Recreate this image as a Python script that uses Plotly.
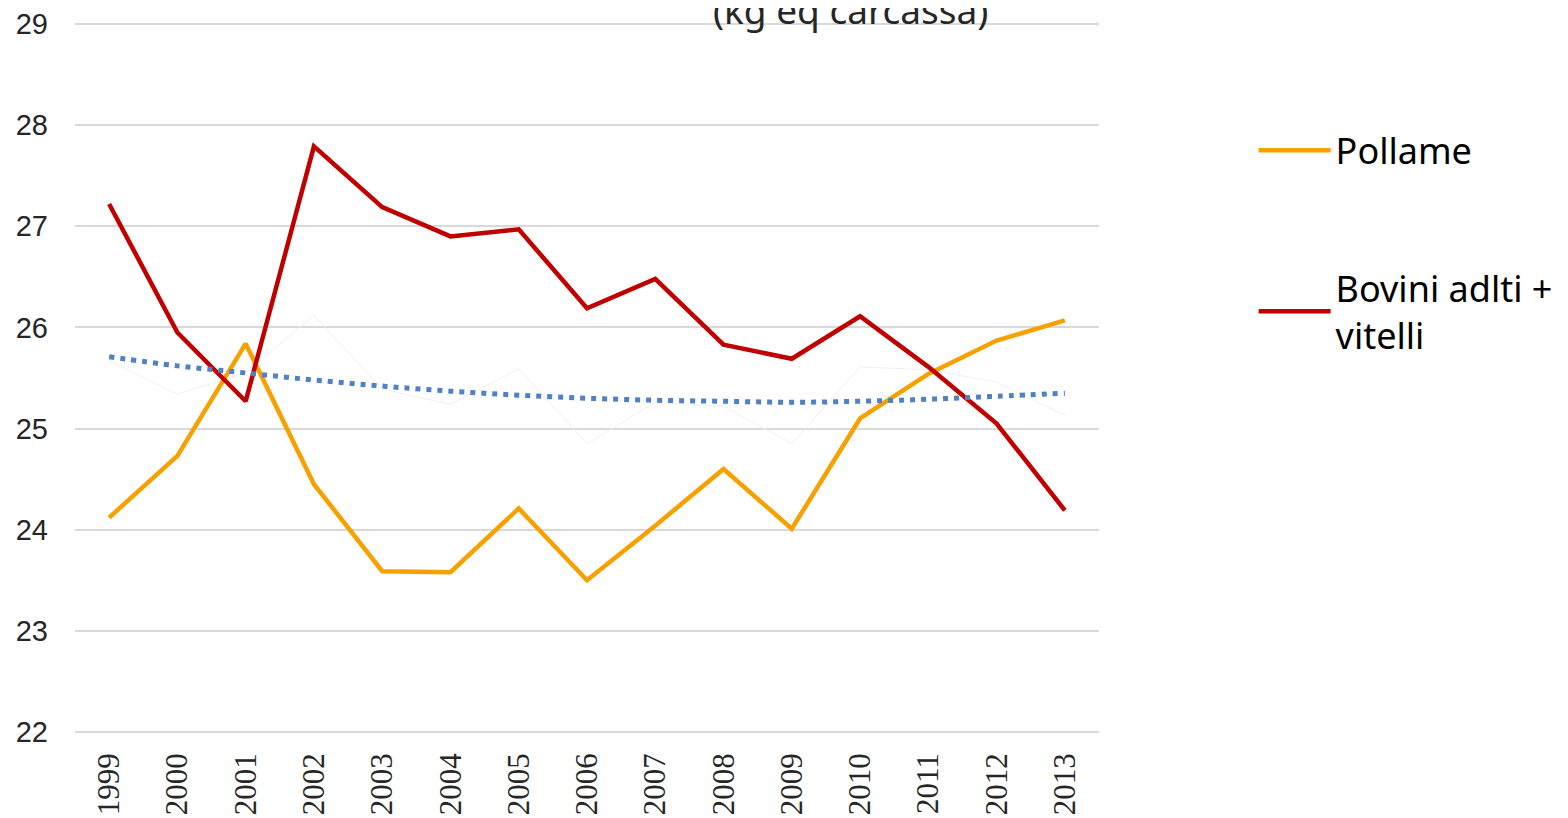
import plotly.graph_objects as go

years = ["1999", "2000", "2001", "2002", "2003", "2004", "2005", "2006",
         "2007", "2008", "2009", "2010", "2011", "2012", "2013"]
pollame = [24.12, 24.73, 25.84, 24.45, 23.59, 23.58, 24.21, 23.50,
           24.04, 24.60, 24.01, 25.10, 25.54, 25.87, 26.07]
bovini = [27.22, 25.95, 25.27, 27.79, 27.19, 26.90, 26.97, 26.19,
          26.48, 25.83, 25.69, 26.11, 25.61, 25.05, 24.19]
media = [25.67, 25.34, 25.55, 26.12, 25.39, 25.24, 25.59, 24.85,
         25.26, 25.22, 24.85, 25.61, 25.58, 25.46, 25.13]
tendenza = [25.71, 25.62, 25.55, 25.48, 25.42, 25.37, 25.33, 25.30,
            25.28, 25.27, 25.26, 25.27, 25.29, 25.32, 25.35]
y_ticks = [22, 23, 24, 25, 26, 27, 28, 29]
title_text = "(kg eq carcassa)"

FONT = "Noto Sans"
YTICKFONT = "Liberation Sans"
XTICKFONT = "Liberation Sans Narrow"

fig = go.Figure()
fig.add_trace(go.Scatter(x=years, y=media, mode="lines", showlegend=False,
                         line=dict(color="#efefef", width=1), hoverinfo="skip"))
fig.add_trace(go.Scatter(x=years, y=pollame, mode="lines", name="Pollame",
                         legendgroup="a",
                         line=dict(color="#F7A100", width=4.5)))
fig.add_trace(go.Scatter(x=years, y=bovini, mode="lines",
                         name="Bovini adlti +<br>vitelli", legendgroup="b",
                         line=dict(color="#C00000", width=4.5)))
fig.add_trace(go.Scatter(x=years, y=tendenza, mode="lines", showlegend=False,
                         line=dict(color="#4F81C4", width=5, dash="5px,6px",
                                   shape="spline")))

fig.update_layout(
    width=1568, height=818,
    margin=dict(l=67, r=477, t=13, b=91, autoexpand=False),
    paper_bgcolor="white", plot_bgcolor="white",
    font=dict(family=FONT, color="#262626"),
    xaxis=dict(type="category", range=[-0.5, 14.5], tickangle=-90,
               tickfont=dict(family=XTICKFONT, size=31, color="#262626"),
               showgrid=False, zeroline=False, showline=False, ticks="",
               ticklabelstandoff=11, ticklabeloverflow="allow",
               automargin=False),
    yaxis=dict(range=[21.97, 29.03], tickvals=y_ticks, showgrid=True,
               gridcolor="#d9d9d9", gridwidth=2, zeroline=False,
               tickfont=dict(family=YTICKFONT, size=29, color="#262626"),
               ticks="", ticklabelstandoff=26, ticklabeloverflow="allow",
               automargin=False),
    legend=dict(x=1.151, y=0.861, xanchor="left", yanchor="top",
                font=dict(size=36, color="#000000"), tracegroupgap=88,
                bgcolor="rgba(0,0,0,0)", itemwidth=72),
    showlegend=True,
    annotations=[dict(text=title_text, xref="paper", yref="paper",
                      x=0.757, y=1.0165, xanchor="center", yanchor="middle",
                      showarrow=False, font=dict(size=37, color="#262626"))],
)

fig.write_html("out.html")
